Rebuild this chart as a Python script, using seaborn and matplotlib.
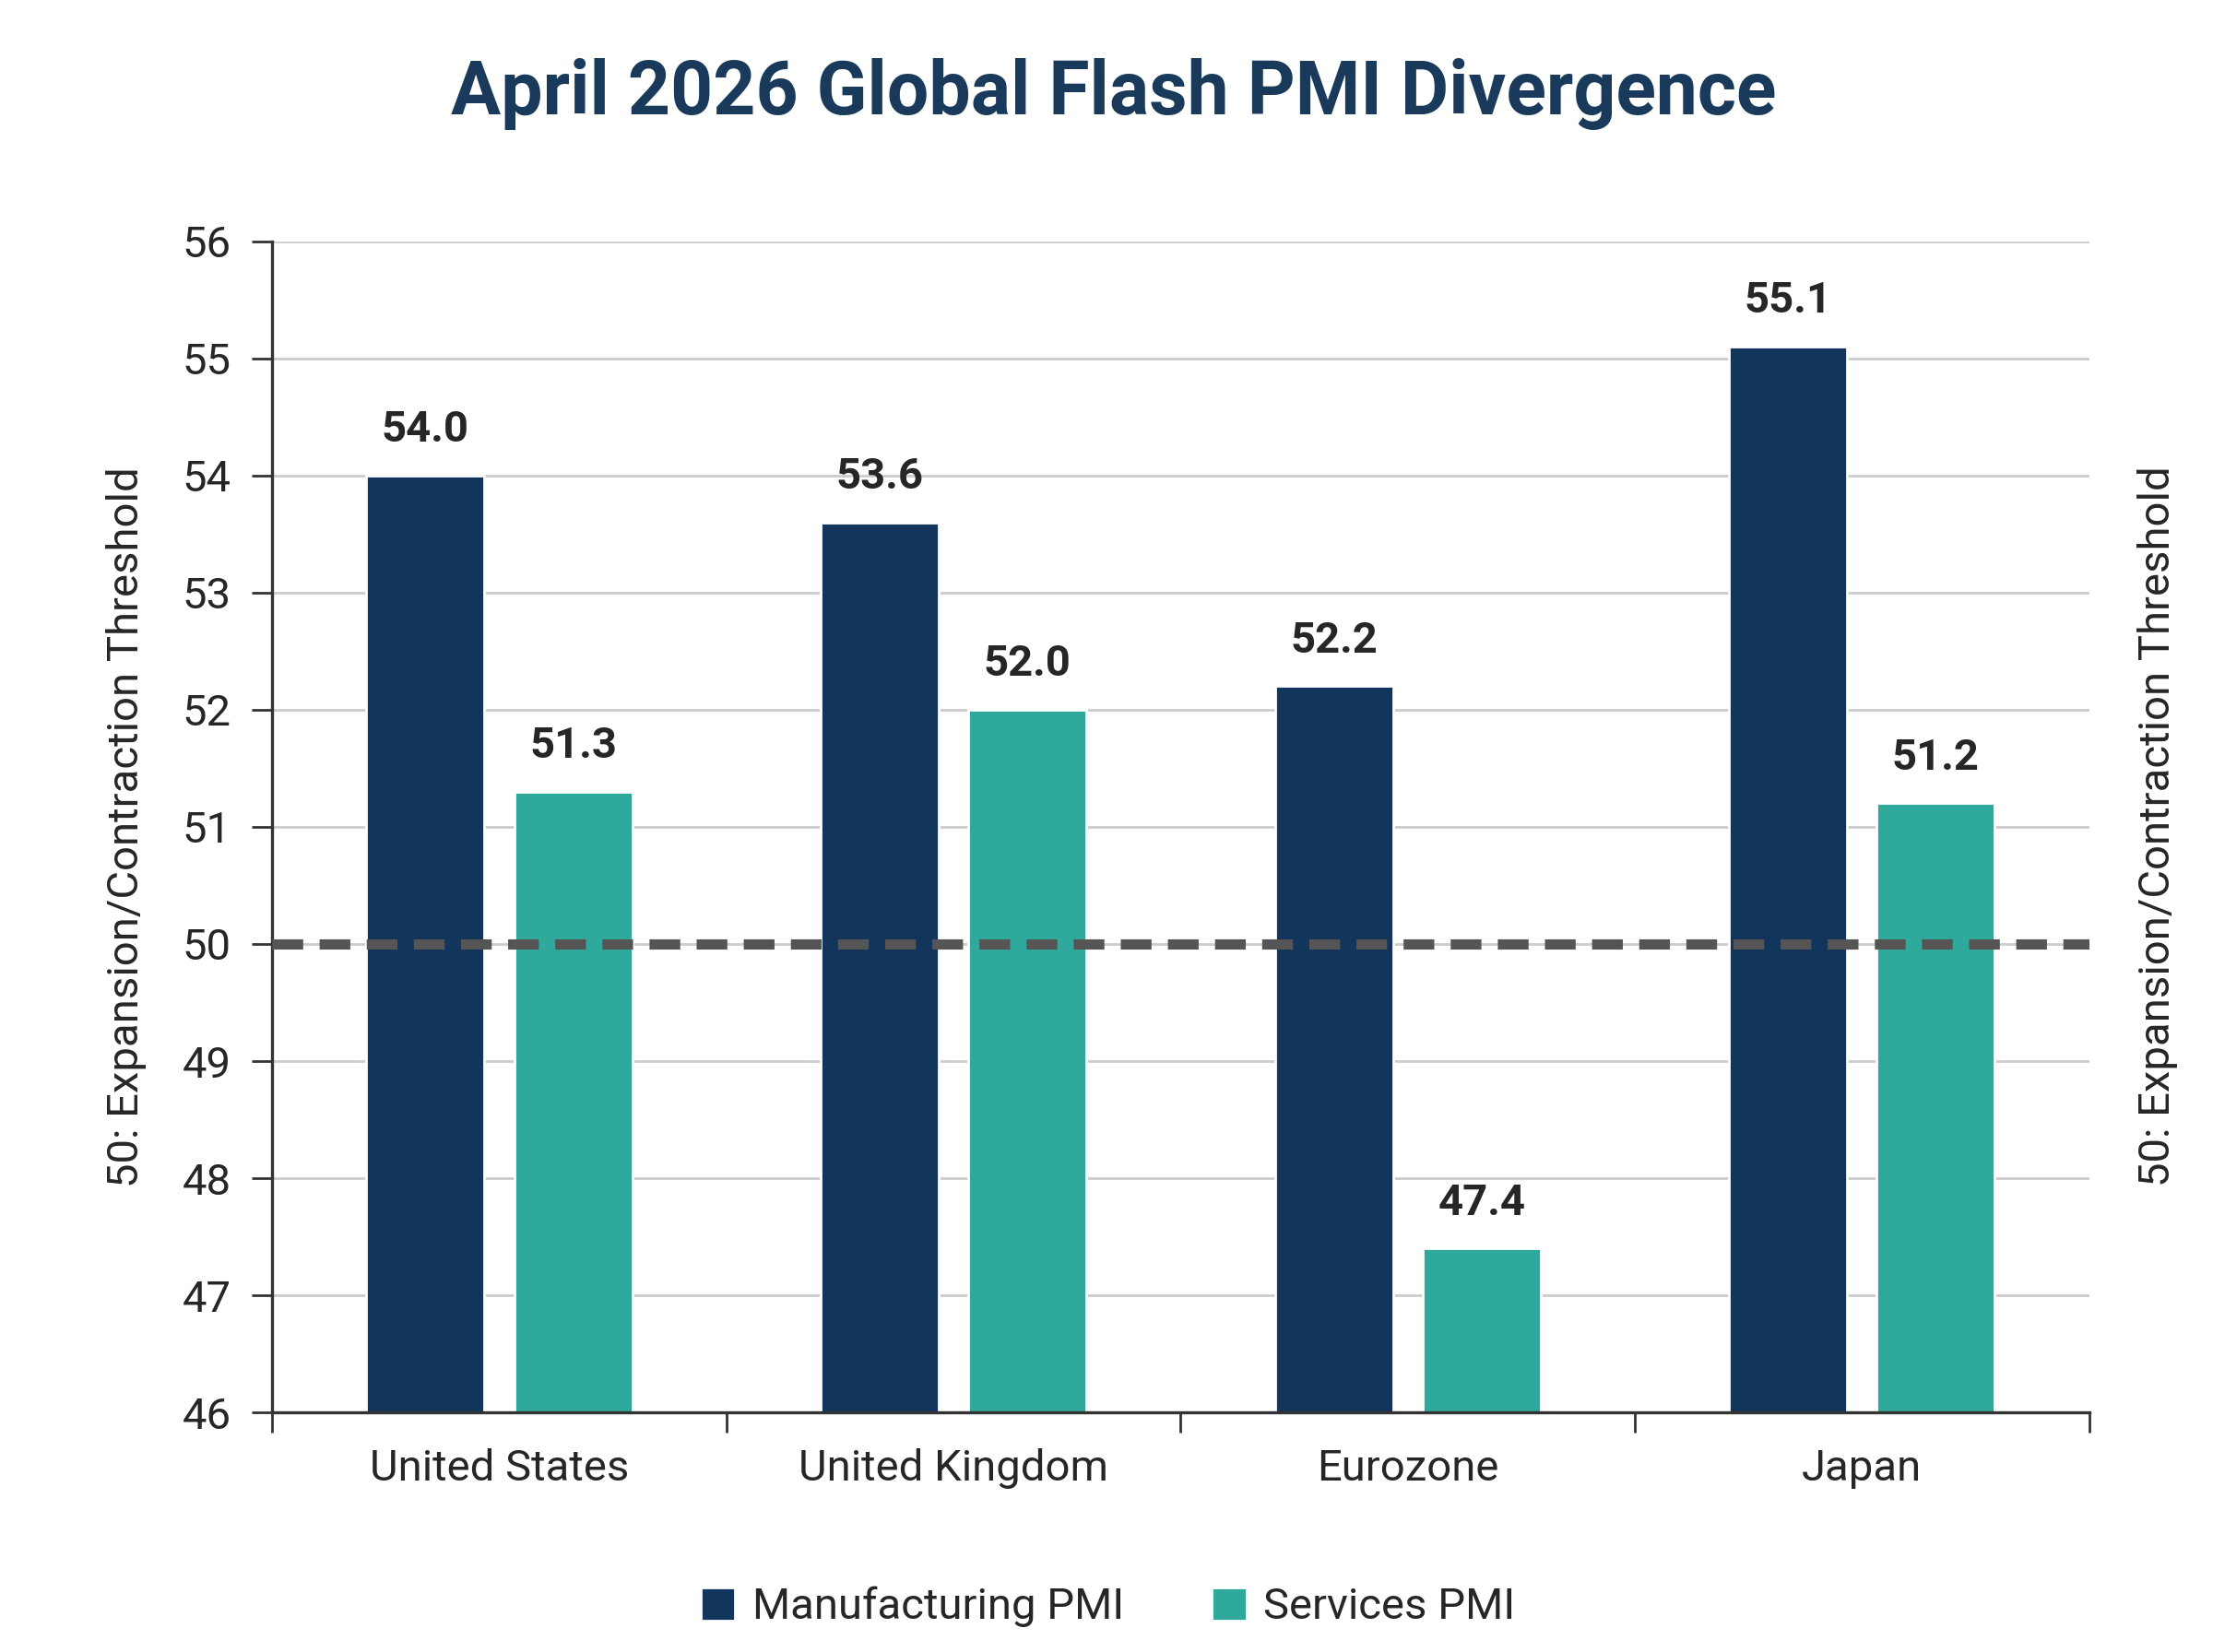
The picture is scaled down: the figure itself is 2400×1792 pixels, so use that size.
import matplotlib
matplotlib.use("Agg")
import matplotlib.pyplot as plt
import seaborn as sns
import pandas as pd

regions = ["United States", "United Kingdom", "Eurozone", "Japan"]
manufacturing = [54.0, 53.6, 52.2, 55.1]
services = [51.3, 52.0, 47.4, 51.2]
series = ["Manufacturing PMI", "Services PMI"]
colors = ["#12355b", "#2fa99b"]

df = pd.DataFrame({
    "Region": regions * 2,
    "PMI": manufacturing + services,
    "Series": [series[0]] * 4 + [series[1]] * 4,
})

sns.set_style("white")
plt.rcParams['font.family'] = ['Roboto', 'DejaVu Sans']

fig = plt.figure(figsize=(12, 8.96), dpi=200)
ax = fig.add_axes([0.123, 0.145, 0.821, 0.709])
sns.barplot(data=df, x="Region", y="PMI", hue="Series", palette=colors,
            width=0.65, gap=0.2, ax=ax, legend=True, saturation=1)

ax.set_ylim(46, 56)
ax.set_xlim(-0.5, 3.5)
ax.set_yticks(range(46, 57))
ax.tick_params(axis='y', labelsize=17, length=8, width=1, color='#333333', pad=8, left=True)
ax.yaxis.grid(True, color='#cccccc', linewidth=1)
ax.set_axisbelow(True)
ax.axhline(50, color='#555555', linestyle=(0, (3, 1.6)), linewidth=4, zorder=3)

ax.set_xticks([0, 1, 2, 3])
ax.set_xticklabels(regions, fontsize=17)
ax.tick_params(axis='x', length=0, pad=14)
ax.set_xticks([-0.5, 0.5, 1.5, 2.5, 3.5], minor=True)
ax.tick_params(axis='x', which='minor', length=8, width=1, color='#333333', bottom=True)

for s in ['top', 'right']:
    ax.spines[s].set_visible(False)
for s in ['left', 'bottom']:
    ax.spines[s].set_color('#333333')
    ax.spines[s].set_linewidth(1.2)

ax.set_xlabel("")
ax.set_ylabel("50: Expansion/Contraction Threshold", fontsize=17, labelpad=14)
fig.text(0.975, 0.5, "50: Expansion/Contraction Threshold", rotation=90,
         fontsize=17, ha='center', va='center')

for cont in ax.containers:
    ax.bar_label(cont, fmt="%.1f", padding=10, fontsize=17, fontweight='bold')

leg = ax.legend(loc='upper center', bbox_to_anchor=(0.46, -0.115), ncol=2,
                frameon=False, fontsize=17, handlelength=0.8, handleheight=0.8,
                columnspacing=2.0, handletextpad=0.4)

fig.suptitle("April 2026 Global Flash PMI Divergence", x=0.503, y=0.965,
             fontsize=29, fontweight='bold', color='#1a3a5c')

fig.savefig("out.png", dpi=200, facecolor='white')
